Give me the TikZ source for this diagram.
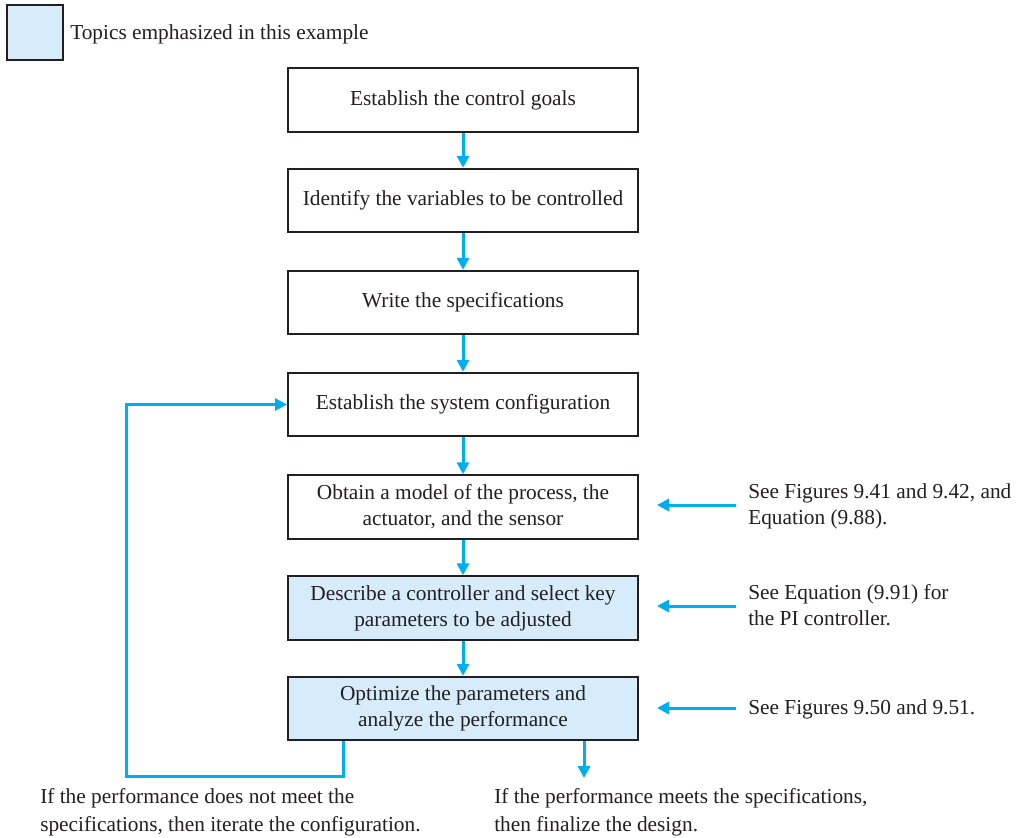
\documentclass[tikz,border=0pt]{standalone}
\usepackage{fontspec}
\setmainfont{Liberation Serif}
\usetikzlibrary{arrows.meta}
\definecolor{cyanline}{RGB}{0,174,239}
\definecolor{lightfill}{RGB}{214,236,250}
\definecolor{boxedge}{RGB}{35,31,32}
\begin{document}
\begin{tikzpicture}[x=0.75pt,y=-0.75pt,
  stepbox/.style={draw=boxedge,line width=1.5pt,minimum width=262.5pt,minimum height=47.5pt,
    align=center,inner sep=0pt,font=\fontsize{16}{19.5}\selectfont,text=boxedge},
  hl/.style={fill=lightfill},
  flow/.style={draw=cyanline,line width=2.25pt,-{Triangle[length=9pt,width=9pt]}},
  note/.style={align=left,anchor=north west,inner sep=0pt,font=\fontsize{16}{19.5}\selectfont,text=boxedge},
  bnote/.style={note,font=\fontsize{16}{21}\selectfont}]
\useasboundingbox (0,0) rectangle (1017,838);
% legend
\node[draw=boxedge,line width=1.5pt,fill=lightfill,minimum width=42pt,minimum height=41pt,inner sep=0pt] (leg) at (35,32.5) {};
\node[anchor=west,inner sep=0pt,font=\fontsize{16}{19.5}\selectfont,text=boxedge] (legt) at (70,34) {Topics emphasized in this example};
% boxes
\node[stepbox] (b1) at (463,100) {Establish the control goals};
\node[stepbox] (b2) at (463,200.5) {Identify the variables to be controlled};
\node[stepbox] (b3) at (463,302.5) {Write the specifications};
\node[stepbox] (b4) at (463,404.5) {Establish the system configuration};
\node[stepbox] (b5) at (463,507) {Obtain a model of the process, the\\actuator, and the sensor};
\node[stepbox,hl] (b6) at (463,608) {Describe a controller and select key\\parameters to be adjusted};
\node[stepbox,hl] (b7) at (463,708.5) {Optimize the parameters and\\analyze the performance};
% vertical arrows
\draw[flow] (b1.south) -- (b2.north);
\draw[flow] (b2.south) -- (b3.north);
\draw[flow] (b3.south) -- (b4.north);
\draw[flow] (b4.south) -- (b5.north);
\draw[flow] (b5.south) -- (b6.north);
\draw[flow] (b6.south) -- (b7.north);
% feedback loop
\coordinate (fbs) at (343,740);
\coordinate (fbl) at (126,776);
\draw[flow] (b7.south -| fbs) |- (fbl) |- (b4.west);
% output
\coordinate (outp) at (584,778);
\draw[flow] (b7.south -| outp) -- (outp);
% notes on the right
\node[note] (n5) at (748,483) {See Figures 9.41 and 9.42, and\\Equation (9.88).};
\node[note] (n6) at (748,584) {See Equation (9.91) for\\the PI controller.};
\node[note] (n7) at (748,699) {See Figures 9.50 and 9.51.};
\coordinate (a5) at (736,505);
\coordinate (a6) at (736,606);
\coordinate (a7) at (736,708);
\draw[flow] (a5) -- (657,505);
\draw[flow] (a6) -- (657,606);
\draw[flow] (a7) -- (657,708);
% bottom notes
\node[bnote] (bl) at (40,788) {If the performance does not meet the\\specifications, then iterate the configuration.};
\node[bnote] (br) at (494,788) {If the performance meets the specifications,\\then finalize the design.};
\end{tikzpicture}
\end{document}
